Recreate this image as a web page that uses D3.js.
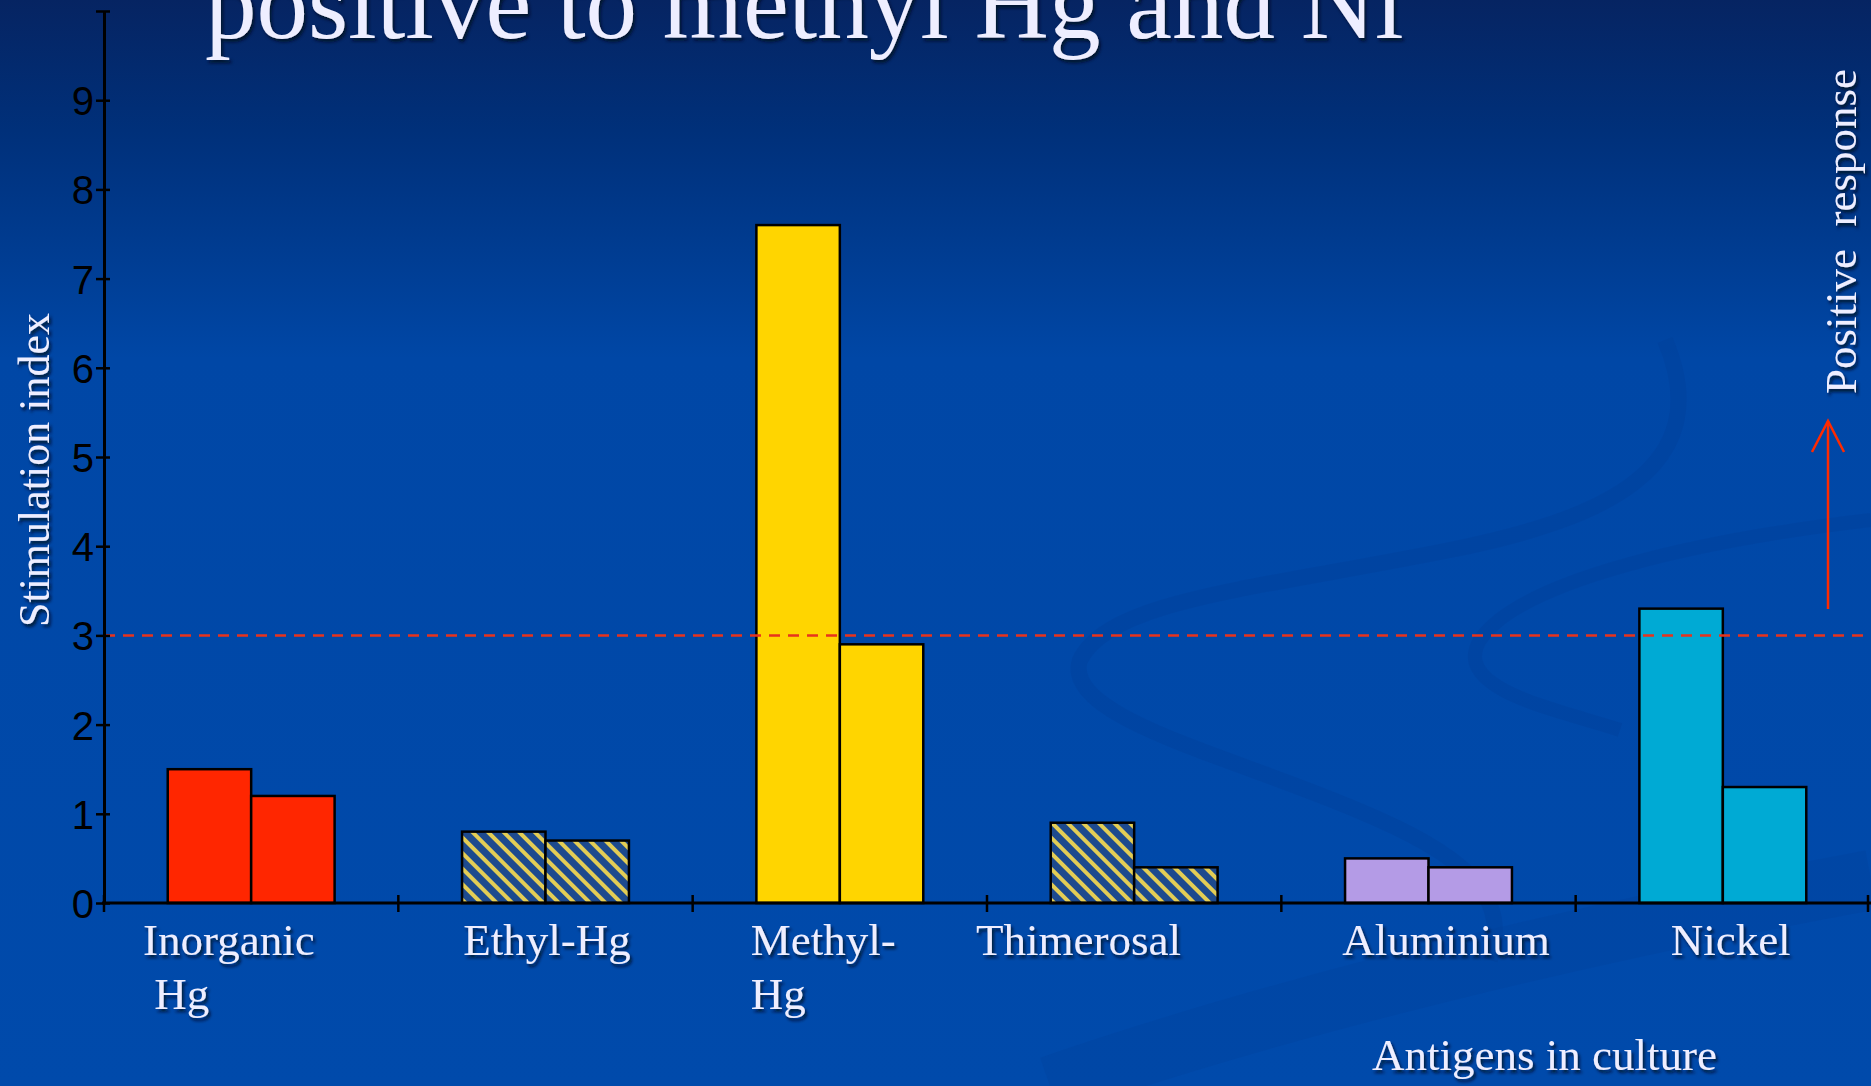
<!DOCTYPE html>
<html>
<head>
    <meta charset="utf-8" />
    <title>Stimulation index by antigen</title>
    <style>
        body { margin: 0; background: #004aab; overflow: hidden; }
        svg { display: block; }
        .serif { font-family: "Liberation Serif", "Times New Roman", serif; fill: #eeeeff; }
        .ytick { font-family: "Liberation Sans", Arial, sans-serif; font-size: 40px; fill: #000; }
    </style>
    <script src="https://cdnjs.cloudflare.com/ajax/libs/d3/7.8.5/d3.min.js"></script>
</head>
<body>
    <script>
        // data
        var categories = ["Inorganic Hg", "Ethyl-Hg", "Methyl-Hg", "Thimerosal", "Aluminium", "Nickel"];
        var labelLines = [["Inorganic", " Hg"], ["Ethyl-Hg"], ["Methyl-", "Hg"], ["Thimerosal"], ["Aluminium"], ["Nickel"]];
        var firstValues  = [1.5, 0.8, 7.6, 0.9, 0.5, 3.3];
        var secondValues = [1.2, 0.7, 2.9, 0.4, 0.4, 1.3];
        var yTicks = [0, 1, 2, 3, 4, 5, 6, 7, 8, 9];
        var threshold = 3;

        var fills = ["#ff2600", "url(#hatch)", "#ffd500", "url(#hatch)", "#b49be6", "#00aad4"];
        // label left edge, relative to the start of each category band
        var labelShift = [39, 65, 58, -11, 61, 95];

        var width = 1871, height = 1086;

        var svg = d3.select("body").append("svg")
            .attr("width", width)
            .attr("height", height);

        var defs = svg.append("defs");

        var bg = defs.append("linearGradient")
            .attr("id", "bg").attr("x1", 0).attr("y1", 0).attr("x2", 0).attr("y2", 1);
        bg.append("stop").attr("offset", "0").attr("stop-color", "#062462");
        bg.append("stop").attr("offset", "0.12").attr("stop-color", "#00307a");
        bg.append("stop").attr("offset", "0.33").attr("stop-color", "#0047a6");
        bg.append("stop").attr("offset", "1").attr("stop-color", "#004aab");

        var hatch = defs.append("pattern")
            .attr("id", "hatch")
            .attr("patternUnits", "userSpaceOnUse")
            .attr("width", 11).attr("height", 11)
            .attr("patternTransform", "rotate(-45)");
        hatch.append("rect").attr("width", 11).attr("height", 11).attr("fill", "#1d4a8e");
        hatch.append("rect").attr("width", 4).attr("height", 11).attr("fill", "#e3cd55");

        var shadow = defs.append("filter").attr("id", "shadow")
            .attr("x", "-10%").attr("y", "-10%").attr("width", "120%").attr("height", "130%");
        shadow.append("feDropShadow")
            .attr("dx", 2).attr("dy", 3).attr("stdDeviation", 1.5)
            .attr("flood-color", "#000820").attr("flood-opacity", 0.8);

        svg.append("rect").attr("width", width).attr("height", height).attr("fill", "url(#bg)");

        // faint swirl of the slide template
        var swirl = svg.append("g").attr("fill", "none").attr("stroke", "#003f98").attr("stroke-opacity", 0.35);
        swirl.append("path")
            .attr("stroke-width", 16)
            .attr("d", "M1665,340 C1720,470 1600,520 1450,550 C1250,590 1110,600 1080,660 C1060,720 1250,760 1380,820 C1470,860 1510,900 1490,960");
        swirl.append("path")
            .attr("stroke-width", 14)
            .attr("d", "M1871,520 C1700,540 1520,580 1480,640 C1450,690 1560,710 1620,730");
        swirl.append("path")
            .attr("stroke-width", 60).attr("stroke-opacity", 0.25)
            .attr("d", "M1050,1086 C1300,1000 1600,930 1871,880");

        var margin = { left: 104, right: 1 };

        var x0 = d3.scaleBand()
            .domain(categories)
            .range([margin.left, width - margin.right])
            .padding(0);

        var groupW = x0.bandwidth() * 0.567;
        var x1 = d3.scaleBand()
            .domain([0, 1])
            .range([0, groupW]);

        var y = d3.scaleLinear()
            .domain([0, 10])
            .range([903, 11]);

        var rows = categories.map(function (c, i) {
            return { cat: c, i: i, values: [firstValues[i], secondValues[i]] };
        });

        // bars
        var groups = svg.append("g").selectAll("g")
            .data(rows)
            .join("g")
            .attr("transform", function (d) {
                return "translate(" + (x0(d.cat) + (x0.bandwidth() - groupW) / 2) + ",0)";
            });

        groups.selectAll("rect")
            .data(function (d) { return d.values.map(function (v, k) { return { v: v, k: k, i: d.i }; }); })
            .join("rect")
            .attr("x", function (d) { return x1(d.k); })
            .attr("y", function (d) { return y(d.v); })
            .attr("width", x1.bandwidth())
            .attr("height", function (d) { return y(0) - y(d.v); })
            .attr("fill", function (d) { return fills[d.i]; })
            .attr("stroke", "#000")
            .attr("stroke-width", 2.5);

        // threshold line
        svg.append("line")
            .attr("x1", margin.left).attr("x2", width)
            .attr("y1", y(threshold)).attr("y2", y(threshold))
            .attr("stroke", "#e8331c")
            .attr("stroke-width", 2.5)
            .attr("stroke-dasharray", "11,8");

        // y axis
        var yAxis = svg.append("g")
            .attr("transform", "translate(" + margin.left + ",0)")
            .call(d3.axisLeft(y).tickValues(yTicks.concat([10])).tickSize(8).tickSizeOuter(0)
                .tickFormat(function (d) { return d === 10 ? "" : d; }));
        yAxis.select(".domain").attr("stroke", "#000").attr("stroke-width", 3);
        yAxis.selectAll(".tick line").attr("stroke", "#000").attr("stroke-width", 2.5)
            .attr("x1", 6);
        yAxis.selectAll(".tick text").attr("class", "ytick").attr("x", -10).attr("dy", "0.36em")
            .attr("font-family", null).attr("font-size", null).attr("fill", null);

        // x axis
        var xAxis = svg.append("g")
            .attr("transform", "translate(0," + y(0) + ")");
        xAxis.append("line")
            .attr("x1", margin.left - 2).attr("x2", width)
            .attr("stroke", "#000").attr("stroke-width", 3);
        xAxis.selectAll(".xt")
            .data(categories.map(function (c) { return x0(c); }).concat([x0.range()[1] - 2]))
            .join("line")
            .attr("class", "xt")
            .attr("x1", function (d) { return d; }).attr("x2", function (d) { return d; })
            .attr("y1", -8).attr("y2", 9)
            .attr("stroke", "#000").attr("stroke-width", 2.5);

        // category labels
        var labels = svg.append("g").attr("filter", "url(#shadow)");
        labels.selectAll("text")
            .data(rows)
            .join("text")
            .attr("class", "serif")
            .attr("font-size", 45)
            .style("white-space", "pre")
            .attr("x", function (d) { return x0(d.cat) + labelShift[d.i]; })
            .attr("y", 955)
            .selectAll("tspan")
            .data(function (d) { return labelLines[d.i].map(function (t) { return { t: t, x: x0(d.cat) + labelShift[d.i] }; }); })
            .join("tspan")
            .attr("x", function (d) { return d.x; })
            .attr("dy", function (d, k) { return k === 0 ? 0 : 54; })
            .text(function (d) { return d.t; });

        // titles and axis names
        var txt = svg.append("g").attr("filter", "url(#shadow)");
        txt.append("text")
            .attr("class", "serif")
            .attr("font-size", 103)
            .attr("x", 205).attr("y", 38)
            .text("positive to methyl Hg and Ni");

        txt.append("text")
            .attr("class", "serif")
            .attr("font-size", 44)
            .attr("text-anchor", "middle")
            .attr("transform", "translate(49,470) rotate(-90)")
            .text("Stimulation index");

        txt.append("text")
            .attr("class", "serif")
            .attr("font-size", 45)
            .attr("x", 1372).attr("y", 1070)
            .text("Antigens in culture");

        txt.append("text")
            .attr("class", "serif")
            .attr("font-size", 45)
            .style("white-space", "pre")
            .attr("transform", "translate(1856,394) rotate(-90)")
            .text("Positive  response");

        // arrow pointing up
        var arrow = svg.append("g").attr("stroke", "#ff2a00").attr("stroke-width", 2.5).attr("fill", "none");
        arrow.append("line").attr("x1", 1828).attr("x2", 1828).attr("y1", 609).attr("y2", 421);
        arrow.append("path").attr("d", "M1812,452 L1828,421 L1844,452");
    </script>
</body>
</html>
